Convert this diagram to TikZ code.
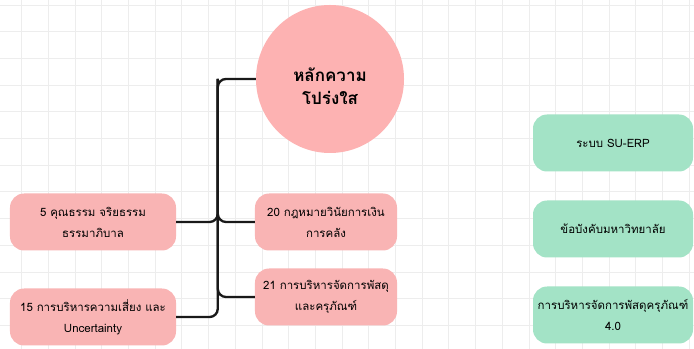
\documentclass[tikz,border=0pt]{standalone}
\usepackage{fontspec}
\setmainfont[Script=Thai]{Loma}
\usetikzlibrary{positioning}
\definecolor{pinkbox}{HTML}{F9B4B4}
\definecolor{pinkcirc}{HTML}{FDB2B2}
\definecolor{greenbox}{HTML}{A3E3C6}
\definecolor{gridline}{HTML}{EDEDED}
\tikzset{
  topic/.style={fill=pinkbox, rounded corners=12pt, minimum height=1.71cm,
    align=center, font=\fontsize{9.8}{18}\selectfont, inner sep=2pt},
  tool/.style={fill=greenbox, rounded corners=12pt, minimum width=4.8cm,
    minimum height=1.71cm, align=center, font=\fontsize{9.8}{18}\selectfont, inner sep=2pt},
  link/.style={line width=2pt, rounded corners=7pt, black!90},
}
\begin{document}
\begin{tikzpicture}[x=0.03cm, y=-0.03cm]
	\useasboundingbox (0,0) rectangle (694,349);
	\fill[white] (0,0) rectangle (694,349);
	% background grid
	\foreach \gx in {0,...,25} \draw[gridline, line width=0.8pt] (21.7+26.7*\gx,0) -- (21.7+26.7*\gx,349);
	\foreach \gy in {0,...,13} \draw[gridline, line width=0.8pt] (0,5+26.7*\gy) -- (694,5+26.7*\gy);

	\node[circle, fill=pinkcirc, minimum size=4.44cm, align=center,
	  font=\fontsize{14.5}{20}\selectfont\bfseries] (circ) at (330,79) {\rule{0pt}{24pt}หลักความ\\โปร่งใส};

	\node[topic, minimum width=4.98cm] (b5) at (93,222) {5 คุณธรรม จริยธรรม\\ธรรมาภิบาล};
	\node[topic, minimum width=4.98cm] (b15) at (93,317) {15 การบริหารความเสี่ยง และ\\Uncertainty};
	\node[topic, minimum width=4.26cm] (b20) at (326,222) {20 กฎหมายวินัยการเงิน\\การคลัง};
	\node[topic, minimum width=4.26cm] (b21) at (326,297) {21 การบริหารจัดการพัสดุ\\และครุภัณฑ์};

	\node[tool] (erp) at (613,143) {ระบบ SU-ERP};
	\node[tool] (rule) at (613,229) {ข้อบังคับมหาวิทยาลัย};
	\node[tool] (supply) at (613,315) {การบริหารจัดการพัสดุครุภัณฑ์\\4.0};

	% connectors
	\path (circ.west) ++(-38,0) coordinate (spine);
	\draw[link] (circ.west) -- (spine) |- (b15.east);
	\draw[link] (b5.east) -| (spine);
	\draw[link] (b20.west) -| (spine);
	\draw[link] (b21.west) -| (spine);
\end{tikzpicture}
\end{document}
